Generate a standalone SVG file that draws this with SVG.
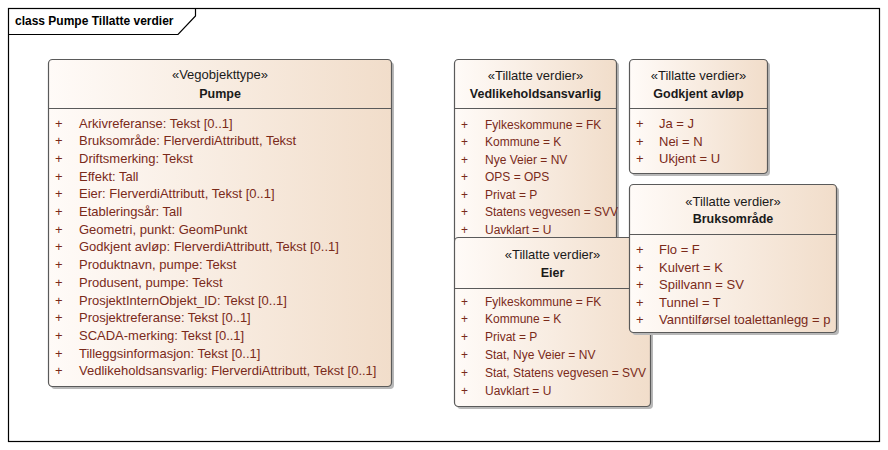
<svg xmlns="http://www.w3.org/2000/svg" width="888" height="450" viewBox="0 0 888 450">
<defs>
<linearGradient id="g" x1="0" y1="0" x2="1" y2="0">
<stop offset="0" stop-color="#FFFBF8"/>
<stop offset="1" stop-color="#F1DDCA"/>
</linearGradient>
<style>
text{font-family:"Liberation Sans",Arial,sans-serif;font-size:13px;}
.box{fill:url(#g);stroke:#5a5a5a;stroke-width:1.2;}
.sh{fill:#b8b8b8;}
.div{stroke:#5a5a5a;stroke-width:1.2;}
.st{fill:#1a1a1a;text-anchor:middle;}
.nm{fill:#1a1a1a;text-anchor:middle;font-weight:bold;font-size:12.5px;}
.at{fill:#7a2a1a;}
.sm text{font-size:12px;}
.title{font-weight:bold;font-size:12px;fill:#000;}
</style>
</defs>
<g id="frame">
<rect x="8.5" y="8.5" width="871" height="433" fill="#fff" stroke="#000" stroke-width="1.2"/>
<path d="M8.5 34.5 H178 L195.5 16 V8.5" fill="none" stroke="#000" stroke-width="1.2"/>
<text class="title" x="15" y="25">class Pumpe Tillatte verdier</text>
</g>
<g id="Pumpe">
<rect class="sh" x="51" y="62" width="343" height="327" rx="4"/>
<rect class="box" x="48.5" y="59.5" width="343" height="327" rx="4"/>
<line class="div" x1="48.5" y1="108.5" x2="391.5" y2="108.5"/>
<text class="st" x="220" y="79">«Vegobjekttype»</text>
<text class="nm" x="220" y="98">Pumpe</text>
<g class="at">
<text x="55" y="127.5">+</text><text x="79" y="127.5">Arkivreferanse: Tekst [0..1]</text>
<text x="55" y="145.2">+</text><text x="79" y="145.2">Bruksområde: FlerverdiAttributt, Tekst</text>
<text x="55" y="162.9">+</text><text x="79" y="162.9">Driftsmerking: Tekst</text>
<text x="55" y="180.6">+</text><text x="79" y="180.6">Effekt: Tall</text>
<text x="55" y="198.3">+</text><text x="79" y="198.3">Eier: FlerverdiAttributt, Tekst [0..1]</text>
<text x="55" y="216">+</text><text x="79" y="216">Etableringsår: Tall</text>
<text x="55" y="233.7">+</text><text x="79" y="233.7">Geometri, punkt: GeomPunkt</text>
<text x="55" y="251.4">+</text><text x="79" y="251.4">Godkjent avløp: FlerverdiAttributt, Tekst [0..1]</text>
<text x="55" y="269.1">+</text><text x="79" y="269.1">Produktnavn, pumpe: Tekst</text>
<text x="55" y="286.8">+</text><text x="79" y="286.8">Produsent, pumpe: Tekst</text>
<text x="55" y="304.5">+</text><text x="79" y="304.5">ProsjektInternObjekt_ID: Tekst [0..1]</text>
<text x="55" y="322.2">+</text><text x="79" y="322.2">Prosjektreferanse: Tekst [0..1]</text>
<text x="55" y="339.9">+</text><text x="79" y="339.9">SCADA-merking: Tekst [0..1]</text>
<text x="55" y="357.6">+</text><text x="79" y="357.6">Tilleggsinformasjon: Tekst [0..1]</text>
<text x="55" y="375.3">+</text><text x="79" y="375.3">Vedlikeholdsansvarlig: FlerverdiAttributt, Tekst [0..1]</text>
</g>
</g>
<g id="Vedlikeholdsansvarlig">
<rect class="sh" x="457" y="62" width="162" height="185" rx="4"/>
<rect class="box" x="454.5" y="59.5" width="162" height="185" rx="4"/>
<line class="div" x1="454.5" y1="108.5" x2="616.5" y2="108.5"/>
<text class="st" x="535.5" y="80">«Tillatte verdier»</text>
<text class="nm" x="535.5" y="98">Vedlikeholdsansvarlig</text>
<g class="at sm">
<text x="461" y="128.5">+</text><text x="485" y="128.5">Fylkeskommune = FK</text>
<text x="461" y="146">+</text><text x="485" y="146">Kommune = K</text>
<text x="461" y="163.5">+</text><text x="485" y="163.5">Nye Veier = NV</text>
<text x="461" y="181">+</text><text x="485" y="181">OPS = OPS</text>
<text x="461" y="198.5">+</text><text x="485" y="198.5">Privat = P</text>
<text x="461" y="216">+</text><text x="485" y="216">Statens vegvesen = SVV</text>
<text x="461" y="233.5">+</text><text x="485" y="233.5">Uavklart = U</text>
</g>
</g>
<g id="GodkjentAvlop">
<rect class="sh" x="632" y="62" width="138" height="114" rx="4"/>
<rect class="box" x="629.5" y="59.5" width="138" height="114" rx="4"/>
<line class="div" x1="629.5" y1="108.5" x2="767.5" y2="108.5"/>
<text class="st" x="698.5" y="80">«Tillatte verdier»</text>
<text class="nm" x="698.5" y="98">Godkjent avløp</text>
<g class="at">
<text x="636" y="128">+</text><text x="659" y="128">Ja = J</text>
<text x="636" y="145.5">+</text><text x="659" y="145.5">Nei = N</text>
<text x="636" y="163">+</text><text x="659" y="163">Ukjent = U</text>
</g>
</g>
<g id="Eier">
<rect class="sh" x="457" y="240" width="196" height="169" rx="4"/>
<rect class="box" x="454.5" y="237.5" width="196" height="169" rx="4"/>
<line class="div" x1="454.5" y1="288.5" x2="650.5" y2="288.5"/>
<text class="st" x="552.5" y="259">«Tillatte verdier»</text>
<text class="nm" x="552.5" y="276.5">Eier</text>
<g class="at sm">
<text x="461" y="305.5">+</text><text x="485" y="305.5">Fylkeskommune = FK</text>
<text x="461" y="323.3">+</text><text x="485" y="323.3">Kommune = K</text>
<text x="461" y="341.1">+</text><text x="485" y="341.1">Privat = P</text>
<text x="461" y="358.9">+</text><text x="485" y="358.9">Stat, Nye Veier = NV</text>
<text x="461" y="376.7">+</text><text x="485" y="376.7">Stat, Statens vegvesen = SVV</text>
<text x="461" y="394.5">+</text><text x="485" y="394.5">Uavklart = U</text>
</g>
</g>
<g id="Bruksomrade">
<rect class="sh" x="632" y="187" width="207" height="148" rx="4"/>
<rect class="box" x="629.5" y="184.5" width="207" height="148" rx="4"/>
<line class="div" x1="629.5" y1="234.5" x2="836.5" y2="234.5"/>
<text class="st" x="733" y="205.5">«Tillatte verdier»</text>
<text class="nm" x="733" y="223">Bruksområde</text>
<g class="at">
<text x="636" y="254">+</text><text x="659" y="254">Flo = F</text>
<text x="636" y="271.5">+</text><text x="659" y="271.5">Kulvert = K</text>
<text x="636" y="289">+</text><text x="659" y="289">Spillvann = SV</text>
<text x="636" y="306.5">+</text><text x="659" y="306.5">Tunnel = T</text>
<text x="636" y="324">+</text><text x="659" y="324">Vanntilførsel toalettanlegg = p</text>
</g>
</g>
<g id="connectors"></g>
</svg>
